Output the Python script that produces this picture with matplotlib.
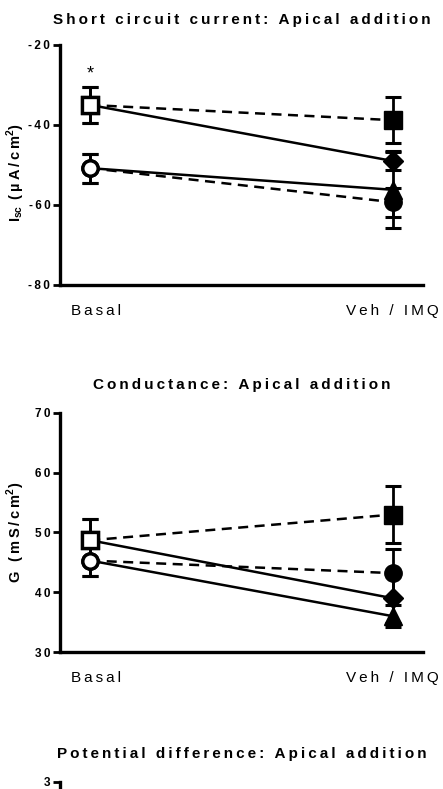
import matplotlib
matplotlib.use('Agg')
import matplotlib.pyplot as plt
import matplotlib.transforms as mtransforms

# ── Data (mean, SEM) ───────────────────────────────────────────────────────

x_labels = ['Basal', 'Veh / IMQ']

# Short circuit current (µA/cm²)
isc_sq_dash = [-35.0, -38.8]
isc_sq_dash_sem = [4.5, 5.8]
isc_sq_solid = [-35.0, -49.0]
isc_sq_solid_sem = [4.5, 2.2]
isc_ci_dash = [-50.8, -59.3]
isc_ci_dash_sem = [3.6, 3.6]
isc_ci_solid = [-50.8, -56.2]
isc_ci_solid_sem = [3.6, 9.6]

# Conductance (mS/cm²)
g_sq_dash = [48.7, 53.0]
g_sq_dash_sem = [3.6, 4.8]
g_sq_solid = [48.7, 39.0]
g_sq_solid_sem = [3.6, 4.2]
g_ci_dash = [45.3, 43.2]
g_ci_dash_sem = [2.6, 4.1]
g_ci_solid = [45.3, 36.0]
g_ci_solid_sem = [2.6, 1.8]

isc_ticks = [-80, -60, -40, -20]
g_ticks = [30, 40, 50, 60, 70]
pd_ticks = [3]

# ── Style ──────────────────────────────────────────────────────────────────

FONT = ['Liberation Sans', 'DejaVu Sans']
plt.rcParams.update({
    'font.family': FONT,
    'mathtext.fontset': 'custom',
    'mathtext.rm': 'Liberation Sans',
    'mathtext.bf': 'Liberation Sans:bold',
})
SP = '\u2009'   # thin space, used as letter spacing (GraphPad look)


def spaced(s, sp=SP):
    return sp.join(s)


def style_axes(ax, ticks, ylim):
    ax.set_xlim(-0.1, 1.1)
    ax.set_ylim(*ylim)
    for side in ('top', 'right'):
        ax.spines[side].set_visible(False)
    for side in ('left', 'bottom'):
        ax.spines[side].set_linewidth(2.4)
    ax.set_yticks(ticks)
    ax.set_yticklabels([spaced(str(t)) for t in ticks], fontsize=8.5,
                       fontweight='bold')
    ax.tick_params(axis='y', direction='out', length=5, width=2, pad=2)
    ax.tick_params(axis='x', length=0, pad=14)
    ax.set_xticks([0, 1])
    ax.set_xticklabels([spaced(l) for l in x_labels], fontsize=11)
    # Basal label sits a little right of its point in the original
    lab = ax.get_xticklabels()[0]
    lab.set_transform(lab.get_transform() +
                      mtransforms.ScaledTranslation(6 / 100, 0, ax.figure.dpi_scale_trans))


def draw_series(ax, vals, sems, m0, m1, ls):
    x = [0, 1]
    ax.plot(x, vals, color='black', lw=1.8, ls=ls,
            dashes=(4, 2.6) if ls == '--' else (None, None), zorder=2)
    ax.errorbar(x, vals, yerr=sems, fmt='none', ecolor='black', elinewidth=2,
                capsize=6, capthick=2.2, zorder=3)
    ax.plot(0, vals[0], marker=m0, ms=11, mfc='white', mec='black', mew=2.4,
            ls='none', zorder=5)
    ax.plot(1, vals[1], marker=m1, ms=12.5 if m1 != 'D' else 10, mfc='black',
            mec='black', mew=1, ls='none', zorder=4)


fig = plt.figure(figsize=(4.43, 7.89), dpi=100)

# ── Panel 1: short circuit current ─────────────────────────────────────────
ax1 = fig.add_axes([0.1354, 0.6388, 0.8194, 0.3042])
draw_series(ax1, isc_sq_dash, isc_sq_dash_sem, 's', 's', '--')
draw_series(ax1, isc_sq_solid, isc_sq_solid_sem, 's', 'D', '-')
draw_series(ax1, isc_ci_dash, isc_ci_dash_sem, 'o', 'o', '--')
draw_series(ax1, isc_ci_solid, isc_ci_solid_sem, 'o', '^', '-')
style_axes(ax1, isc_ticks, (-80, -20))
ax1.text(0, isc_sq_dash[0] + isc_sq_dash_sem[0] + 1.0, '*', ha='center',
         va='bottom', fontsize=13)
ax1.set_title(spaced('Short circuit current: Apical addition'), fontsize=11,
              fontweight='bold', pad=15)
ax1.set_ylabel(r'$\mathbf{I_{sc}}$' + SP + ' ' + spaced('(µA/cm') + r'$^{\mathbf{2}}$)',
               fontsize=10.5, fontweight='bold')
ax1.yaxis.set_label_coords(-0.09, 0.47)

# ── Panel 2: conductance ───────────────────────────────────────────────────
ax2 = fig.add_axes([0.1354, 0.1736, 0.8194, 0.303])
draw_series(ax2, g_sq_dash, g_sq_dash_sem, 's', 's', '--')
draw_series(ax2, g_sq_solid, g_sq_solid_sem, 's', 'D', '-')
draw_series(ax2, g_ci_dash, g_ci_dash_sem, 'o', 'o', '--')
draw_series(ax2, g_ci_solid, g_ci_solid_sem, 'o', '^', '-')
style_axes(ax2, g_ticks, (30, 70))
ax2.set_title(spaced('Conductance: Apical addition'), fontsize=11,
              fontweight='bold', pad=17)
ax2.set_ylabel(spaced('G (mS/cm') + r'$^{\mathbf{2}}$)', fontsize=10.5,
               fontweight='bold')
ax2.yaxis.set_label_coords(-0.09, 0.5)

# ── Panel 3: potential difference (cut off at bottom) ──────────────────────
ax3 = fig.add_axes([0.1354, -0.294, 0.8194, 0.303])
style_axes(ax3, pd_ticks, (-3, 3))
ax3.set_xticks([])
ax3.set_title(spaced('Potential difference: Apical addition'), fontsize=11,
              fontweight='bold', pad=17)

fig.savefig('out.png', dpi=100)
